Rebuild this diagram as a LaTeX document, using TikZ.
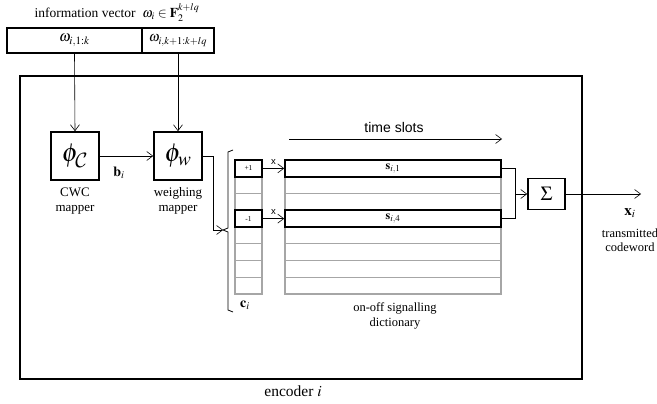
\documentclass[tikz,border=0pt]{standalone}
\usepackage{amsmath}
\usepackage{amssymb}
\usepackage{mathptmx}
\DeclareMathAlphabet{\mathcal}{OMS}{cmsy}{m}{n}
\usepackage[no-math]{fontspec}
\setmainfont{Liberation Serif}
\newfontfamily\slotfont{Liberation Sans}
\usetikzlibrary{arrows.meta}

\begin{document}
\begin{tikzpicture}[x=1pt,y=-1pt,
  blk/.style={draw,line width=1.6pt,inner sep=0pt},
  cell/.style={draw=black!35,line width=1.4pt,inner sep=0pt,minimum height=16.75pt},
  conn/.style={-{Straight Barb[length=6pt,width=9pt]},line width=0.6pt},
  txt/.style={font=\fontsize{13}{15}\selectfont,align=center}]
  \useasboundingbox (0,0) rectangle (657,404);
  % information vector
  \node[txt,font=\fontsize{13.5}{15}\selectfont] at (117,13) {information vector\ \ $\omega_i\in\mathbf{F}_2^{k+lq}$};
  \node[blk,minimum width=135pt,minimum height=25pt,font=\fontsize{15}{16}\selectfont] (w1) at (74.5,40.5) {$\omega_{i,1:k}$};
  \node[blk,minimum width=72pt,minimum height=25pt,font=\fontsize{14}{15}\selectfont] (w2) at (178,40.5) {$\omega_{i,k+1:k+lq}$};
  % encoder
  \node[blk,minimum width=562pt,minimum height=303pt] (enc) at (301,227.5) {};
  \node[txt,font=\fontsize{15.5}{17}\selectfont] at (293,391) {encoder $i$};
  % mappers
  \node[blk,minimum width=48pt,minimum height=48pt,font=\fontsize{26}{28}\selectfont] (phiC) at (75,156) {$\phi_{\mathcal{C}}$};
  \node[blk,minimum width=48pt,minimum height=48pt,font=\fontsize{26}{28}\selectfont] (phiW) at (178,156) {$\phi_w$};
  \node[txt] at (75,201) {CWC\\mapper};
  \node[txt] at (178,201) {weighing\\mapper};
  \node[txt,font=\fontsize{14}{15}\selectfont] at (119,173) {$\mathbf{b}_i$};
  \draw[conn] (w1.south) -- (phiC.north);
  \draw[conn] (w2.south) -- (phiW.north);
  \draw[conn] (phiC.east) -- (phiW.west);
  % bracket
  \coordinate (brk) at (223,230);
  \draw[line width=0.8pt] (233,150) -- (228,152) -- (228,228) -- (brk) -- (228,232) -- (228,310) -- (233,312);
  \draw[conn] (phiW.east) -- ++(10,0) |- (brk);
  % code column and dictionary
  \foreach \r in {1,...,8} {
    \node[cell,minimum width=27pt] (c\r) at (248.5,{160+(\r-0.5)*16.75}) {};
    \node[cell,minimum width=216pt] (d\r) at (393,{160+(\r-0.5)*16.75}) {};
  }
  \node[blk,minimum width=27pt,minimum height=16.75pt,font=\fontsize{7.5}{8}\selectfont] (cp) at (c1) {+1};
  \node[blk,minimum width=27pt,minimum height=16.75pt,font=\fontsize{7.5}{8}\selectfont] (cm) at (c4) {-1};
  \node[blk,minimum width=216pt,minimum height=16.75pt,font=\fontsize{12}{13}\selectfont] (s1) at (d1) {$\mathbf{s}_{i,1}$};
  \node[blk,minimum width=216pt,minimum height=16.75pt,font=\fontsize{12}{13}\selectfont] (s4) at (d4) {$\mathbf{s}_{i,4}$};
  \draw[conn] (cp.east) -- node[above,font=\slotfont\fontsize{9.5}{10}\selectfont] {x} (s1.west);
  \draw[conn] (cm.east) -- node[above,font=\slotfont\fontsize{9.5}{10}\selectfont] {x} (s4.west);
  \node[txt,font=\fontsize{14}{15}\selectfont] at (245,305) {$\mathbf{c}_i$};
  \node[txt,font=\fontsize{12.5}{15.5}\selectfont] at (395,316) {on-off signalling\\dictionary};
  % time axis
  \node[txt,font=\slotfont\fontsize{14}{15}\selectfont] at (394,127) {time slots};
  \coordinate (t0) at (289,139);
  \coordinate (t1) at (502,139);
  \draw[conn] (t0) -- (t1);
  % sum and output
  \node[blk,minimum width=37pt,minimum height=31pt,font=\fontsize{20}{22}\selectfont] (sum) at (546.5,194) {$\Sigma$};
  \coordinate (j) at (515,194);
  \draw[line width=0.6pt] (s1.east) -| (j);
  \draw[line width=0.6pt] (s4.east) -| (j);
  \draw[conn] (j) -- (sum.west);
  \coordinate (out) at (641,194);
  \draw[conn] (sum.east) -- (out);
  \node[txt,font=\fontsize{15}{16}\selectfont] at (630,213) {$\mathbf{x}_i$};
  \node[txt,font=\fontsize{12.5}{14.5}\selectfont] at (630,240) {transmitted\\codeword};
\end{tikzpicture}
\end{document}
